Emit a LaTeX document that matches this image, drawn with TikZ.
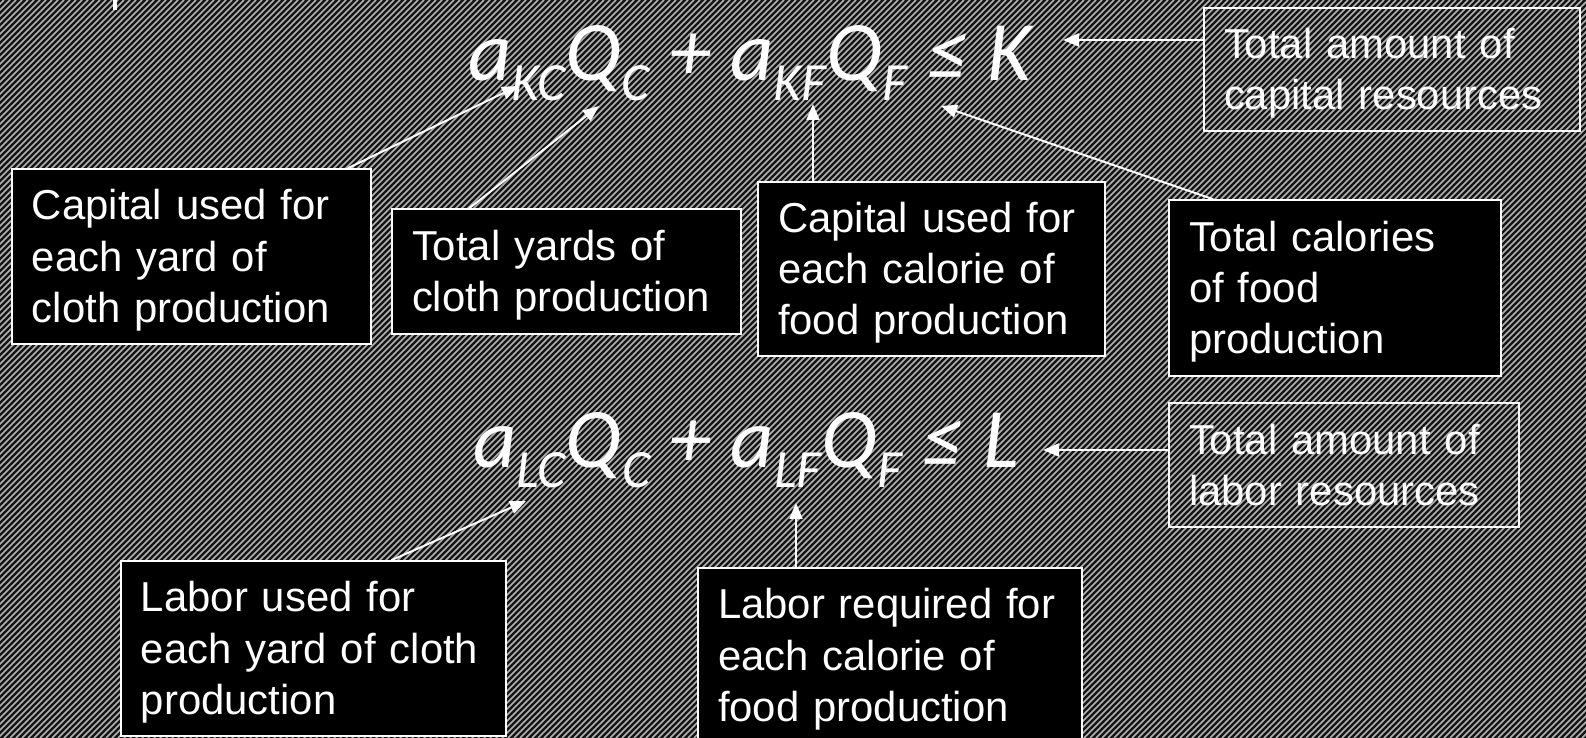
\documentclass[tikz,border=0pt]{standalone}
\usepackage{fontspec}
\setmainfont{Liberation Sans}
\newfontfamily\eqfont{Carlito}
\usetikzlibrary{arrows.meta}
\newcommand\lowsub[1]{\raisebox{-20bp}{\fontsize{54}{54}\selectfont #1}}

\begin{document}
\begin{tikzpicture}[x=1bp,y=1bp,
    txtbox/.style={draw=white,line width=1.5bp,text=white,align=left,
      inner xsep=20bp,inner ysep=0bp,font=\fontsize{42}{51.5}\selectfont},
    sunk/.style={execute at begin node={\rule{0pt}{38bp}}},
    darkbox/.style={txtbox,sunk,fill=black},
    arr/.style={white,line width=2bp,-{Triangle[length=16bp,width=13bp]}},
    eq/.style={text=white,anchor=base,inner sep=0bp,
      font=\eqfont\itshape\fontsize{85}{90}\selectfont}]
  \path[use as bounding box] (0,0) rectangle (1586,738);
  \fill[black!92] (0,0) rectangle (1586,738);
  \foreach \i in {-740,-734,...,1586}
    \draw[white!70!black,line width=1.6bp] (\i,0) -- ++(738,738);
  \fill[white] (113,728) rectangle (117,738);

  % capital constraint
  \node[eq] (capEq) at (750,657) {a\lowsub{KC}Q\lowsub{C} + a\lowsub{KF}Q\lowsub{F} ≤ K};
  \node[txtbox,sunk,text width=336bp,minimum height=123bp] (capRes) at (1392,668.5)
    {Total amount of\\capital resources};
  \node[darkbox,text width=319bp,minimum height=175bp] (capYard) at (191.5,481.5)
    {Capital used for\\each yard of\\cloth production};
  \node[darkbox,text width=309bp,minimum height=125bp] (yardsCloth) at (566.5,466.5)
    {Total yards of\\cloth production};
  \node[darkbox,text width=307bp,minimum height=174bp] (capCal) at (931.5,469)
    {Capital used for\\each calorie of\\food production};
  \node[darkbox,text width=292bp,minimum height=176bp] (calFood) at (1335,450)
    {Total calories\\of food\\production};

  \coordinate (kTip) at (1063,698);
  \coordinate (kcTip) at (518,652);
  \coordinate (qcTip) at (599,632);
  \coordinate (kfTip) at (813,634);
  \coordinate (qfTip) at (941,632);
  \draw[arr] (capRes.west |- kTip) -- (kTip);
  \draw[arr] ([xshift=-24bp]capYard.north east) -- (kcTip);
  \draw[arr] ([xshift=78bp]yardsCloth.north west) -- (qcTip);
  \draw[arr] (kfTip |- capCal.north) -- (kfTip);
  \draw[arr] ([xshift=45bp]calFood.north west) -- (qfTip);

  % labor constraint
  \node[eq] (labEq) at (746,270) {a\lowsub{LC}Q\lowsub{C} + a\lowsub{LF}Q\lowsub{F} ≤ L};
  \node[txtbox,text width=310bp,minimum height=124bp] (labRes) at (1344,273)
    {Total amount of\\labor resources};
  \node[darkbox,text width=345bp,minimum height=175bp] (labYard) at (313.5,89.5)
    {Labor used for\\each yard of cloth\\production};
  \node[darkbox,text width=344bp,minimum height=175bp] (labCal) at (890,82.5)
    {Labor required for\\each calorie of\\food production};

  \coordinate (lTip) at (1043,288);
  \coordinate (lcTip) at (526,237);
  \coordinate (lfTip) at (796,235);
  \draw[arr] (labRes.west |- lTip) -- (lTip);
  \draw[arr] ([xshift=271bp]labYard.north west) -- (lcTip);
  \draw[arr] (lfTip |- labCal.north) -- (lfTip);
\end{tikzpicture}
\end{document}
